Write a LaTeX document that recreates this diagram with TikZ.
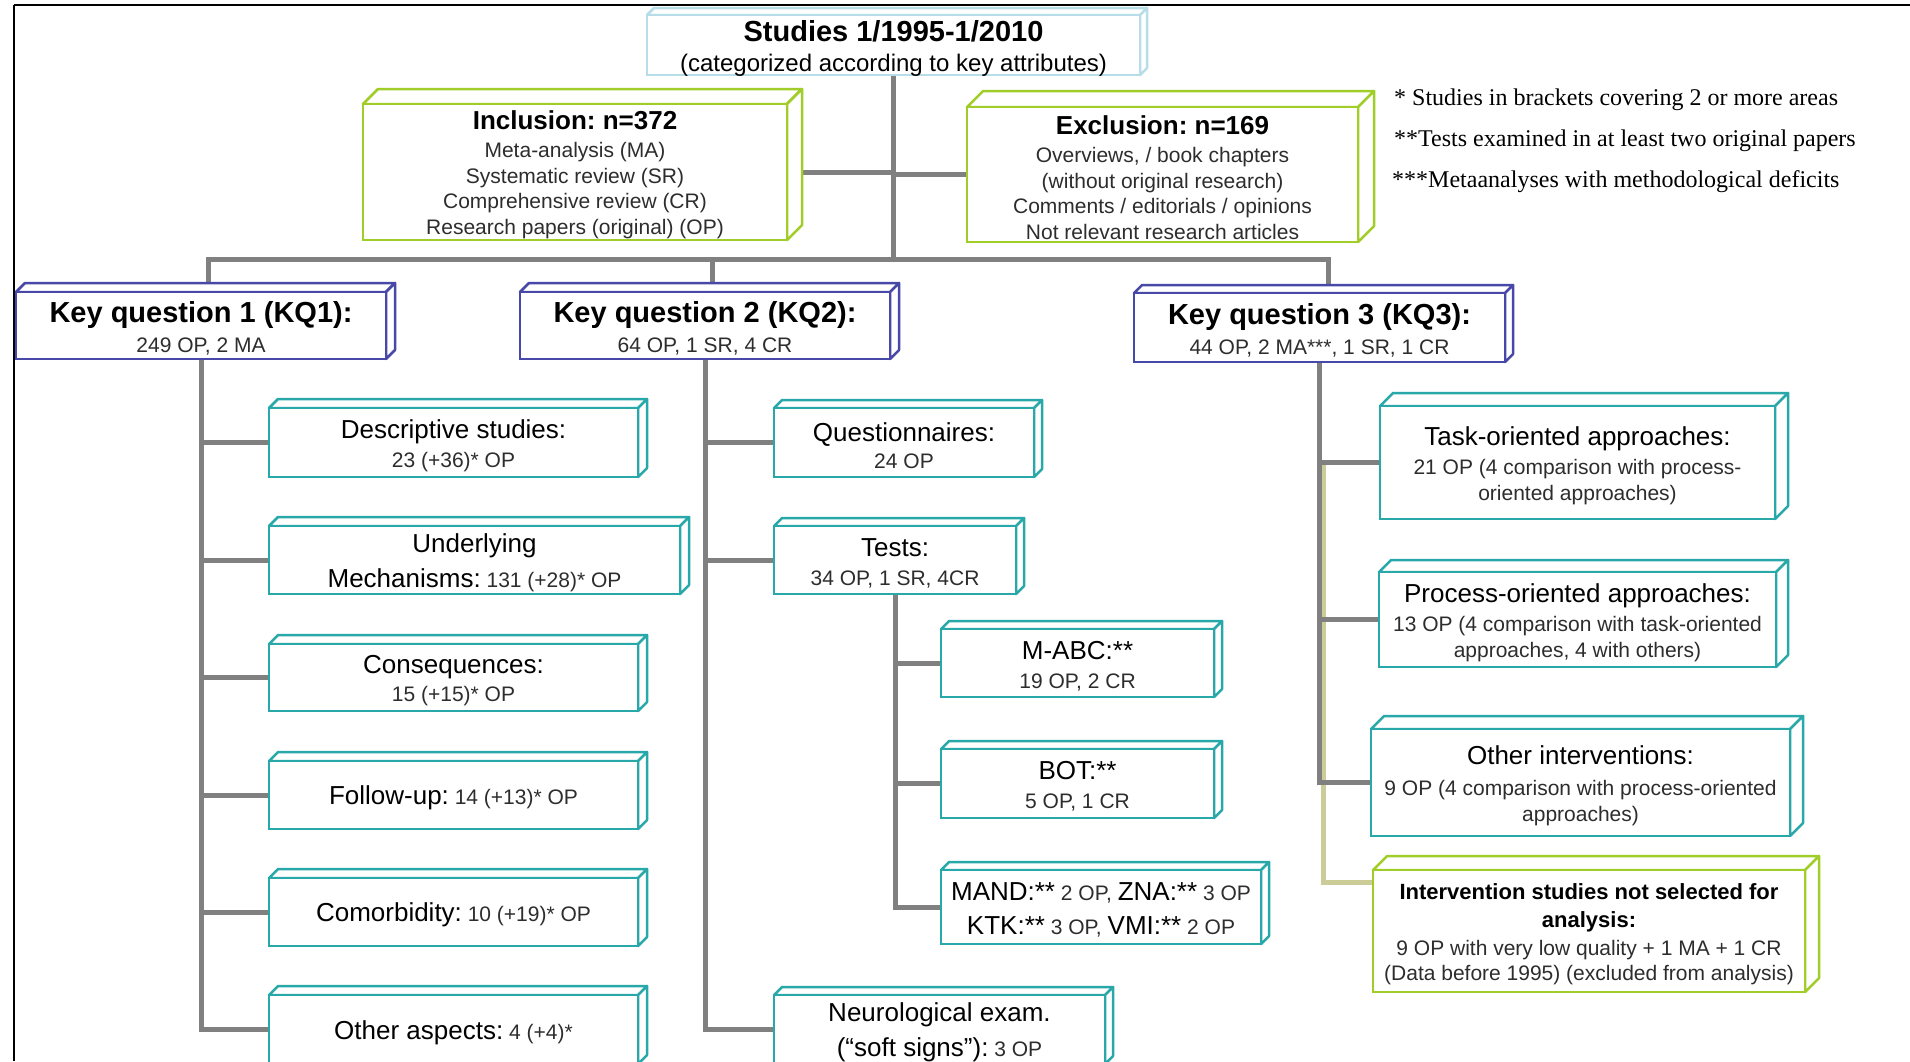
\documentclass[tikz,border=0pt]{standalone}
\usepackage{fontspec}
\setmainfont{Liberation Sans}
\newfontfamily\notefont{Liberation Serif}
\pgfdeclarelayer{background}
\pgfsetlayers{background,main}
\definecolor{kqc}{RGB}{72,72,168}
\definecolor{tealc}{RGB}{40,168,168}
\definecolor{grnc}{RGB}{160,205,40}
\definecolor{ltbl}{RGB}{183,222,232}
\definecolor{linec}{RGB}{128,128,128}
\definecolor{khakic}{RGB}{204,204,153}
\definecolor{txtg}{RGB}{45,45,45}
\newcommand\sm{\frenchspacing\fontsize{21}{25.5}\selectfont}
\newcommand\hd{\fontsize{26}{29}\selectfont\color{black}}
\newcommand\kqh{\fontsize{29}{32}\selectfont\bfseries\color{black}}
\newcommand\ibh{\fontsize{26}{29}\selectfont\bfseries\color{black}}
\newcommand\ivh{\fontsize{22}{28}\selectfont\bfseries\color{black}}
\tikzset{
  facepath/.style={fill=white, line width=2.5pt, line join=round},
  frontbox/.style={rectangle, fill=white, line width=2.5pt, inner sep=0pt, outer sep=0pt},
  boxtext/.style={align=center, inner sep=0pt, font=\sm, text=txtg, yshift=-3pt},
  conn/.style={draw=linec, line width=5pt},
  khline/.style={draw=khakic, line width=5pt},
  note/.style={anchor=west, inner sep=0pt, font=\notefont\frenchspacing\fontsize{24}{28}\selectfont},
  border/.style={draw=black, line width=2.5pt},
}
% #1 name, #2 x1, #3 y1, #4 x2, #5 y2, #6 depth, #7 colour, #8 text
\newcommand\cubebox[8]{%
  \path[facepath, draw=#7] (#2,#3) -- ({#2+#6},{#3-#6}) -- ({#4+#6},{#3-#6}) -- (#4,#3) -- cycle;
  \path[facepath, draw=#7] (#4,#3) -- ({#4+#6},{#3-#6}) -- ({#4+#6},{#5-#6}) -- (#4,#5) -- cycle;
  \node[frontbox, draw=#7, minimum width={#4-#2}, minimum height={#5-#3}] (#1) at ({(#2+#4)/2},{(#3+#5)/2}) {};
  \node[boxtext] (#1-t) at (#1.center) {#8};
}
\begin{document}
\begin{tikzpicture}[x=1pt,y=-1pt]
\path[use as bounding box, clip] (0,0) rectangle (1910,1061);

% frame lines
\draw[border] (14,5) -- (1910,5);
\draw[border] (14,5) -- (14,1061);

% top
\cubebox{studies}{647}{15}{1140}{75}{7}{ltbl}{{\kqh Studies 1/1995-1/2010}\\[4.5pt]{\fontsize{24}{29}\selectfont\color{black}(categorized according to key attributes)}}
\cubebox{incl}{363}{104}{787}{240}{15}{grnc}{{\ibh Inclusion: n=372}\\[2.5pt]Meta-analysis (MA)\\Systematic review (SR)\\Comprehensive review (CR)\\Research papers (original) (OP)}
\cubebox{excl}{967}{107}{1358}{242}{16}{grnc}{{\ibh Exclusion: n=169}\\[2.5pt]Overviews, / book chapters\\(without original research)\\Comments / editorials / opinions\\Not relevant research articles}

% notes
\node[note] (n1) at (1394,100) {* Studies in brackets covering 2 or more areas};
\node[note] (n2) at (1394,141) {**Tests examined in at least two original papers};
\node[note] (n3) at (1392,182) {***Metaanalyses with methodological deficits};

% key questions
\cubebox{kq1}{16}{292}{386}{359}{9}{kqc}{{\kqh Key question 1 (KQ1):}\\[4.5pt]249 OP, 2 MA}
\cubebox{kq2}{520}{292}{890}{359}{9}{kqc}{{\kqh Key question 2 (KQ2):}\\[4.5pt]64 OP, 1 SR, 4 CR}
\cubebox{kq3}{1134}{293}{1505}{362}{8}{kqc}{{\kqh Key question 3 (KQ3):}\\[4.5pt]44 OP, 2 MA***, 1 SR, 1 CR}

% KQ1 children
\cubebox{desc}{269}{408}{638}{477}{9}{tealc}{{\hd Descriptive studies:}\\[3.5pt]23 (+36)* OP}
\cubebox{und}{269}{526}{680}{594}{9}{tealc}{{\hd Underlying}\\[9.5pt]{\hd Mechanisms:} 131 (+28)* OP}
\cubebox{cons}{269}{644}{638}{711}{9}{tealc}{{\hd Consequences:}\\[2.5pt]15 (+15)* OP}
\cubebox{foll}{269}{761}{638}{829}{9}{tealc}{{\hd Follow-up:} 14 (+13)* OP}
\cubebox{comb}{269}{878}{638}{946}{9}{tealc}{{\hd Comorbidity:} 10 (+19)* OP}
\cubebox{oth}{269}{995}{638}{1064}{9}{tealc}{{\hd Other aspects:} 4 (+4)*}

% KQ2 children
\cubebox{quest}{774}{408}{1034}{477}{8}{tealc}{{\hd Questionnaires:}\\[1.5pt]24 OP}
\cubebox{tests}{774}{526}{1016}{594}{8}{tealc}{{\hd Tests:}\\[3.5pt]34 OP, 1 SR, 4CR}
\cubebox{mabc}{941}{629}{1214}{697}{8}{tealc}{{\hd M-ABC:**}\\[3.5pt]19 OP, 2 CR}
\cubebox{bot}{941}{749}{1214}{818}{8}{tealc}{{\hd BOT:**}\\[3.5pt]5 OP, 1 CR}
\cubebox{mand}{941}{870}{1261}{944}{8}{tealc}{{\hd MAND:**} 2 OP, {\hd ZNA:**} 3 OP\\[8.5pt]{\hd KTK:**} 3 OP, {\hd VMI:**} 2 OP}
\cubebox{neu}{774}{995}{1105}{1064}{8}{tealc}{{\hd Neurological exam.}\\[9.5pt]{\hd (“soft signs”):} 3 OP}

% KQ3 children
\cubebox{task}{1380}{406}{1775}{519}{13}{tealc}{{\hd Task-oriented approaches:}\\[3.5pt]21 OP (4 comparison with process-\\oriented approaches)}
\cubebox{proc}{1379}{572}{1776}{667}{12}{tealc}{{\hd Process-oriented approaches:}\\[3.5pt]13 OP (4 comparison with task-oriented\\approaches, 4 with others)}
\cubebox{othi}{1371}{729}{1790}{836}{13}{tealc}{{\hd Other interventions:}\\[5.5pt]9 OP (4 comparison with process-oriented\\approaches)}
\cubebox{interv}{1373}{870}{1805}{992}{14}{grnc}{{\ivh Intervention studies not selected for}\\[2.5pt]{\ivh analysis:}\\[2.5pt]9 OP with very low quality + 1 MA + 1 CR\\(Data before 1995) (excluded from analysis)}

\begin{pgfonlayer}{background}
\fill[white] (0,0) rectangle (1910,1061);
\coordinate (busL) at (208,259);
\coordinate (busM) at (712,259);
\coordinate (busR) at (1328,259);
\draw[conn] (studies.south) -- (studies.south |- busL);
\draw[conn] (busL |- kq1.north) -- (busL) -- (busR) -- (busR |- kq3.north);
\draw[conn] (busM) -- (busM |- kq2.north);
\draw[conn] (incl.east) -- (incl.east -| studies.south);
\draw[conn] (excl.west) -- (excl.west -| studies.south);
% KQ1
\draw[conn] (kq1.south) -- (kq1.south |- oth.west) -- (oth.west);
\foreach \b in {desc,und,cons,foll,comb} \draw[conn] (\b.west) -- (\b.west -| kq1.south);
% KQ2
\draw[conn] (kq2.south) -- (kq2.south |- neu.west) -- (neu.west);
\foreach \b in {quest,tests} \draw[conn] (\b.west) -- (\b.west -| kq2.south);
\draw[conn] (tests.south) -- (tests.south |- mand.west) -- (mand.west);
\foreach \b in {mabc,bot} \draw[conn] (\b.west) -- (\b.west -| tests.south);
% KQ3
\coordinate (kS) at (1323,462);
\coordinate (kE) at (1323,882);
\draw[khline] (kS) -- (kE) -- (kE -| interv.west);
\draw[conn] (kq3.south) -- (kq3.south |- othi.west) -- (othi.west);
\foreach \b in {task,proc} \draw[conn] (\b.west) -- (\b.west -| kq3.south);
\end{pgfonlayer}
\end{tikzpicture}
\end{document}
